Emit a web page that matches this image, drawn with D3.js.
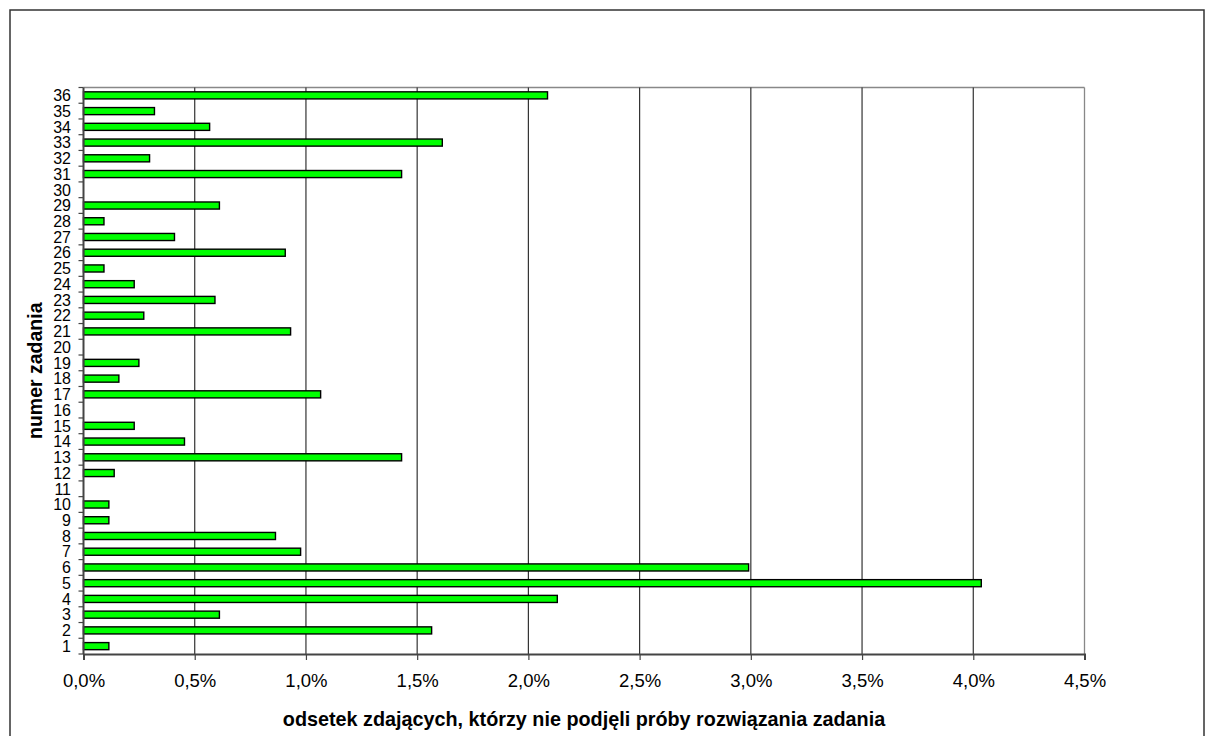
<!DOCTYPE html>
<html><head><meta charset="utf-8">
<script src="https://cdn.jsdelivr.net/npm/d3@7"></script>
<style>body{margin:0;background:#fff}svg{display:block}text{font-family:"Liberation Sans",Arial,sans-serif}</style>
</head><body>
<svg id="c" width="1209" height="736"></svg>
<script>
const categories = ["1","2","3","4","5","6","7","8","9","10","11","12","13","14","15","16","17","18","19","20","21","22","23","24","25","26","27","28","29","30","31","32","33","34","35","36"];
const values = [0.114,1.565,0.611,2.13,4.036,2.99,0.976,0.863,0.114,0.114,0,0.138,1.43,0.454,0.228,0,1.066,0.159,0.249,0,0.931,0.271,0.591,0.228,0.092,0.907,0.409,0.092,0.611,0,1.43,0.297,1.613,0.567,0.319,2.086];
const xTicks = [0,0.5,1,1.5,2,2.5,3,3.5,4,4.5];
const xTitle = "odsetek zdających, którzy nie podjęli próby rozwiązania zadania";
const yTitle = "numer zadania";

const data = categories.map((c,i)=>({c, v: values[i]}));
const svg = d3.select("#c");
const L = 83.5, R = 1084.5, T = 87.5, B = 654;

// outer border
svg.append("rect").attr("x",10).attr("y",10).attr("width",1194).attr("height",740)
  .attr("fill","none").attr("stroke","#333").attr("stroke-width",1.5);

const x = d3.scaleLinear().domain([0,4.5]).range([L,R]);
const y = d3.scaleBand().domain(categories.slice().reverse()).range([T,B]).paddingInner(0.55).paddingOuter(0.275);

// plot frame top/right
svg.append("line").attr("x1",L).attr("x2",R).attr("y1",T).attr("y2",T).attr("stroke","#888").attr("stroke-width",1.3);
svg.append("line").attr("x1",R).attr("x2",R).attr("y1",T).attr("y2",B).attr("stroke","#888").attr("stroke-width",1.3);

// gridlines
svg.append("g").selectAll("line").data(xTicks.filter(d=>d>0 && d<4.5)).join("line")
  .attr("x1",d=>x(d)).attr("x2",d=>x(d)).attr("y1",T).attr("y2",B)
  .attr("stroke","#333").attr("stroke-width",1.2);

// bars
svg.append("g").selectAll("rect").data(data.filter(d=>d.v>0)).join("rect")
  .attr("x",x(0)).attr("y",d=>y(d.c)).attr("width",d=>x(d.v)-x(0)).attr("height",y.bandwidth())
  .attr("fill","#00ff00").attr("stroke","#000").attr("stroke-width",1.4);

// x axis
const xa = svg.append("g").attr("transform",`translate(0,${B})`)
  .call(d3.axisBottom(x).tickValues(xTicks).tickSize(6).tickPadding(14)
    .tickFormat(d=>d3.format(".1f")(d).replace(".",",")+"%"));
xa.select(".domain").attr("stroke","#444").attr("stroke-width",2);
xa.selectAll(".tick line").attr("stroke","#444").attr("stroke-width",1.2);
xa.selectAll("text").attr("font-size",18.5).attr("fill","#000").attr("font-family","Liberation Sans, Arial, sans-serif");

// y axis (ticks at band boundaries)
const yStep = y.step();
svg.append("line").attr("x1",L).attr("x2",L).attr("y1",T).attr("y2",B).attr("stroke","#444").attr("stroke-width",2);
svg.append("g").selectAll("line").data(d3.range(categories.length+1)).join("line")
  .attr("x1",L-5).attr("x2",L).attr("y1",i=>T+i*yStep).attr("y2",i=>T+i*yStep)
  .attr("stroke","#444").attr("stroke-width",1.2);
svg.append("g").selectAll("text").data(categories).join("text")
  .attr("x",71).attr("y",d=>y(d)+y.bandwidth()/2).attr("dy","0.36em")
  .attr("text-anchor","end").attr("font-size",16).attr("fill","#000").text(d=>d);

// titles
svg.append("text").attr("x",(L+R)/2).attr("y",726).attr("text-anchor","middle")
  .attr("font-size",19.8).attr("font-weight","bold").attr("fill","#000").text(xTitle);
svg.append("text").attr("transform",`translate(42,${(T+B)/2}) rotate(-90)`).attr("text-anchor","middle")
  .attr("font-size",19.5).attr("font-weight","bold").attr("fill","#000").text(yTitle);
</script>
</body></html>
